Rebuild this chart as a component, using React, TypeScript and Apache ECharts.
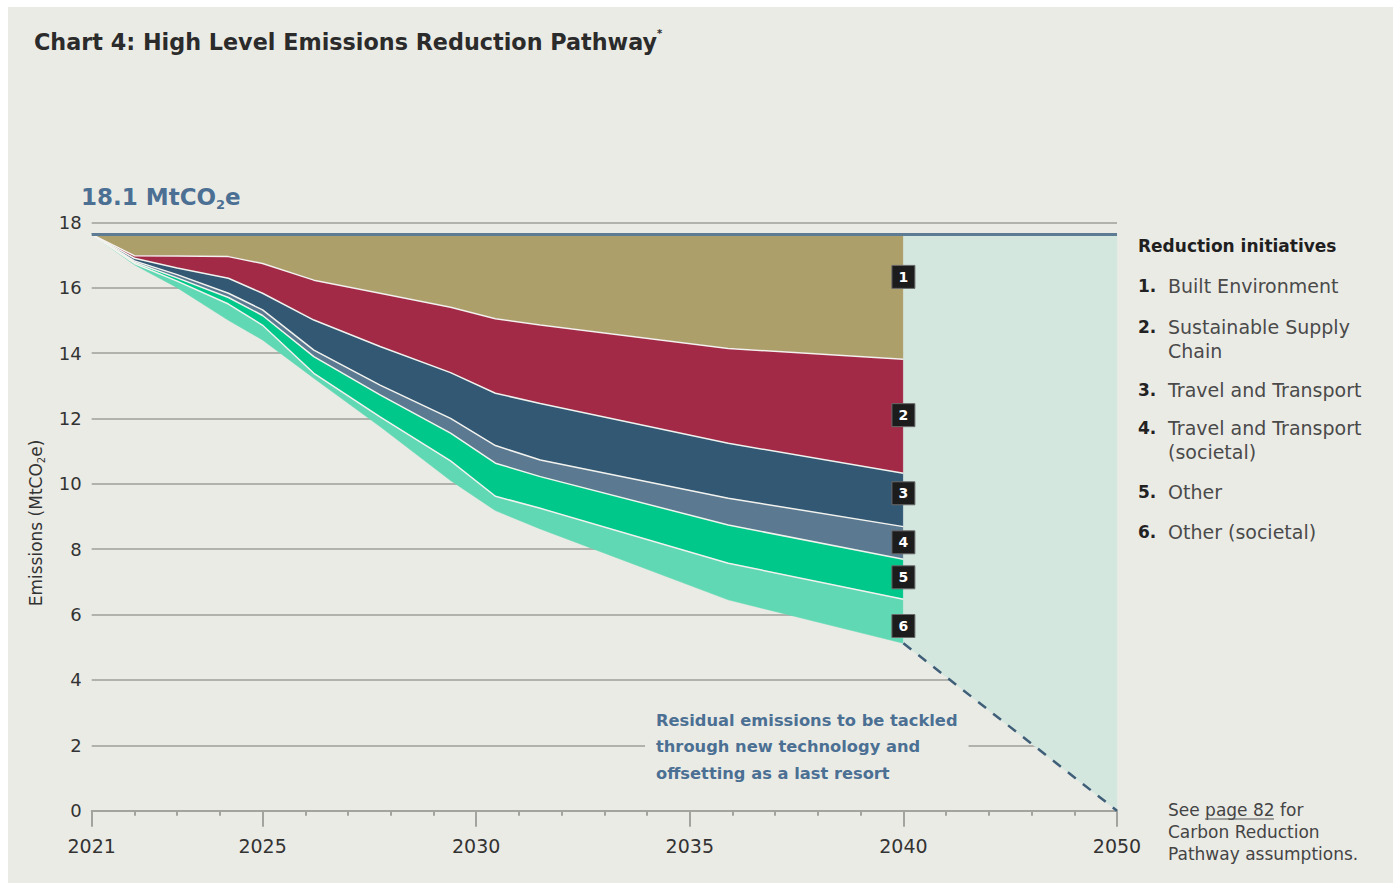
import { useEffect, useRef } from "react";
import * as echarts from "echarts";

// ---------- data ----------
const years = [2021, 2022, 2023, 2024.2, 2025, 2026.2, 2027.75, 2029.4, 2030.45, 2031.5, 2035.9, 2040];
const baselineLevel = 17.63;
const boundary12 = [17.63, 16.98, 16.97, 16.95, 16.74, 16.23, 15.83, 15.4, 15.05, 14.86, 14.14, 13.81];
const boundary23 = [17.63, 16.9, 16.6, 16.29, 15.83, 15.01, 14.2, 13.4, 12.77, 12.46, 11.24, 10.32];
const boundary34 = [17.63, 16.82, 16.4, 15.83, 15.32, 14.09, 13.02, 12.0, 11.17, 10.73, 9.56, 8.69];
const boundary45 = [17.63, 16.78, 16.3, 15.7, 15.15, 13.89, 12.72, 11.55, 10.63, 10.22, 8.74, 7.69];
const boundary56 = [17.63, 16.74, 16.2, 15.5, 14.85, 13.38, 12.05, 10.7, 9.62, 9.25, 7.57, 6.47];
const residual = [17.63, 16.7, 16.0, 15.0, 14.4, 13.23, 11.75, 10.1, 9.18, 8.62, 6.45, 5.12];
const residualPathYears = [2040, 2050];
const residualPathValues = [5.12, 0];
const axisLabelYears = [2021, 2025, 2030, 2035, 2040, 2050];
const initiativeNumbers = ["1.", "2.", "3.", "4.", "5.", "6."];
const initiativeNames = [
  "Built Environment",
  "Sustainable Supply\nChain",
  "Travel and Transport",
  "Travel and Transport\n(societal)",
  "Other",
  "Other (societal)",
];
const badgeLabels = ["1", "2", "3", "4", "5", "6"];
const badgeValues = [16.33, 12.1, 9.71, 8.21, 7.14, 5.65];

// ---------- style ----------
const BG = "#ebebe6";
const FONT = "'DejaVu Sans', sans-serif";
const layerColors = ["#ad9f69", "#a32a46", "#325874", "#5b7a91", "#00c88b", "#5fd8b3"]; // 1..6
const WEDGE = "#d3e7df";
const STEEL = "#5d7b92";
const BLUE_TEXT = "#4b7093";

// axis is compressed after 2040 (10 years drawn over 5 units)
const pos = (y: number) => (y <= 2040 ? y : 2040 + (y - 2040) / 2);

const GRID_L = 91.7;
const GRID_T = 222.3;
const GRID_W = 1117 - 91.7;
const GRID_H = 810.7 - 222.3;

export default function App() {
  const ref = useRef<HTMLDivElement>(null);
  useEffect(() => {
    if (!ref.current) return;
    const chart = echarts.init(ref.current, null, { renderer: "svg" });

    const topLine = years.map(() => baselineLevel);
    // bands, layer 1..6 then the 2040-2050 wedge : [xs, upper, lower, color]
    const bands: any[] = [
      [years, topLine, boundary12, layerColors[0]],
      [years, boundary12, boundary23, layerColors[1]],
      [years, boundary23, boundary34, layerColors[2]],
      [years, boundary34, boundary45, layerColors[3]],
      [years, boundary45, boundary56, layerColors[4]],
      [years, boundary56, residual, layerColors[5]],
      [residualPathYears.map(pos), residualPathYears.map(() => baselineLevel), residualPathValues, WEDGE],
    ];

    const series: any[] = [];
    series.push({
      type: "custom",
      silent: true,
      clip: true,
      z: 2,
      data: bands.map((_, k) => [2030, 10, k]),
      renderItem: (params: any, api: any) => {
        const k = api.value(2);
        const [xs, up, low, color] = bands[k];
        const pts: number[][] = [];
        for (let i = 0; i < xs.length; i++) pts.push(api.coord([xs[i], up[i]]));
        for (let i = xs.length - 1; i >= 0; i--) pts.push(api.coord([xs[i], low[i]]));
        return {
          type: "polygon",
          shape: { points: pts },
          style: { fill: color, stroke: color, lineWidth: 0.5 },
        };
      },
    });
    // white separators
    [boundary56, boundary45, boundary34, boundary23, boundary12].forEach((b) => {
      series.push({
        type: "line",
        symbol: "none",
        silent: true,
        lineStyle: { width: 1.5, color: "#f2f2ee" },
        data: years.map((y, i) => [y, b[i]]),
        z: 3,
      });
    });
    // baseline
    series.push({
      type: "line",
      symbol: "none",
      silent: true,
      lineStyle: { width: 3, color: STEEL },
      data: [
        [years[0], baselineLevel],
        [pos(2050), baselineLevel],
      ],
      z: 4,
    });
    // residual dashed path
    series.push({
      type: "line",
      symbol: "none",
      silent: true,
      lineStyle: { width: 2.5, color: "#3f5e78", type: [10, 9] },
      data: residualPathYears.map((y, i) => [pos(y), residualPathValues[i]]),
      z: 4,
    });
    // badges
    series.push({
      type: "scatter",
      symbol: "rect",
      symbolSize: 23,
      silent: true,
      itemStyle: { color: "#1c1c1c", borderColor: "#6a6a6a", borderWidth: 1, opacity: 1 },
      label: {
        show: true,
        position: "inside",
        formatter: (p: any) => p.value[2],
        color: "#ffffff",
        fontFamily: FONT,
        fontWeight: "bold",
        fontSize: 14,
      },
      data: badgeLabels.map((l, i) => [2040, badgeValues[i], l]),
      z: 6,
    });

    const tickPositions = axisLabelYears.map(pos);
    const labelFor: Record<string, string> = {};
    axisLabelYears.forEach((y) => (labelFor[String(pos(y))] = String(y)));

    const graphics: any[] = [
      { type: "rect", z: -100, silent: true, shape: { x: 8, y: 7, width: 1385, height: 876 }, style: { fill: BG } },
      {
        type: "text",
        z: 50,
        x: 34,
        y: 42,
        style: {
          text: "{t|Chart 4: High Level Emissions Reduction Pathway}{s|*}",
          verticalAlign: "middle",
          rich: {
            t: { fontFamily: FONT, fontSize: 22.3, fontWeight: 700, fill: "#2b2b2b", lineHeight: 28 },
            s: { fontFamily: FONT, fontSize: 10, fontWeight: 600, fill: "#2b2b2b", verticalAlign: "top", lineHeight: 28 },
          },
        },
      },
      {
        type: "text",
        z: 50,
        x: 81,
        y: 197,
        style: {
          text: "{a|18.1 MtCO}{b|2}{a|e}",
          verticalAlign: "middle",
          rich: {
            a: { fontFamily: FONT, fontSize: 23, fontWeight: 700, fill: BLUE_TEXT, lineHeight: 28 },
            b: { fontFamily: FONT, fontSize: 13, fontWeight: 700, fill: BLUE_TEXT, verticalAlign: "bottom", lineHeight: 22 },
          },
        },
      },
      {
        type: "text",
        z: 50,
        x: 36,
        y: 523,
        rotation: Math.PI / 2,
        style: {
          text: "{a|Emissions (MtCO}{b|2}{a|e)}",
          align: "center",
          verticalAlign: "middle",
          rich: {
            a: { fontFamily: FONT, fontSize: 17, fill: "#333333", lineHeight: 20 },
            b: { fontFamily: FONT, fontSize: 10, fill: "#333333", verticalAlign: "bottom", lineHeight: 16 },
          },
        },
      },
      {
        type: "text",
        z: 50,
        x: 1138,
        y: 246,
        style: {
          text: "Reduction initiatives",
          fontFamily: FONT,
          fontSize: 17,
          fontWeight: 700,
          fill: "#1f1f1f",
          verticalAlign: "middle",
        },
      },
      {
        type: "text",
        z: 50,
        x: 645,
        y: 707,
        style: {
          text: "Residual emissions to be tackled\nthrough new technology and\noffsetting as a last resort",
          fontFamily: FONT,
          fontSize: 16.3,
          fontWeight: 700,
          fill: BLUE_TEXT,
          lineHeight: 26.5,
          backgroundColor: BG,
          padding: [0, 11, 0, 11],
        },
      },
      {
        type: "text",
        z: 50,
        x: 1168,
        y: 799,
        style: {
          text: "See page 82 for\nCarbon Reduction\nPathway assumptions.",
          fontFamily: FONT,
          fontSize: 17,
          fill: "#444444",
          lineHeight: 22,
        },
      },
      {
        type: "line",
        z: 50,
        shape: { x1: 1205, y1: 819, x2: 1274, y2: 819 },
        style: { stroke: "#555555", lineWidth: 1.2 },
      },
    ];
    const itemCenters = [286, 327, 390, 428, 492, 532];
    initiativeNames.forEach((name, i) => {
      graphics.push({
        type: "text",
        z: 50,
        x: 1138,
        y: itemCenters[i] - 11.5,
        style: { text: initiativeNumbers[i], fontFamily: FONT, fontSize: 17, fontWeight: 700, fill: "#222222", lineHeight: 23 },
      });
      graphics.push({
        type: "text",
        z: 50,
        x: 1168,
        y: itemCenters[i] - 11.75,
        style: { text: name, fontFamily: FONT, fontSize: 19, fill: "#4a4a4a", lineHeight: 23.5 },
      });
    });

    chart.setOption({
      animation: false,
      backgroundColor: "#ffffff",
      grid: { left: GRID_L, top: GRID_T, width: GRID_W, height: GRID_H, containLabel: false, outerBoundsMode: "none" },
      xAxis: [
        {
          type: "value",
          min: 2021,
          max: 2045,
          interval: 1,
          axisLine: { show: true, lineStyle: { color: "#a3a39f", width: 2 } },
          axisTick: { show: true, length: 5, lineStyle: { color: "#a3a39f", width: 2 } },
          axisLabel: { show: false },
          splitLine: { show: false },
        },
        {
          type: "value",
          min: 2021,
          max: 2045,
          position: "bottom",
          axisLine: { show: false },
          axisTick: { show: true, length: 16, customValues: tickPositions, lineStyle: { color: "#a3a39f", width: 2 } },
          axisLabel: {
            show: true,
            customValues: tickPositions,
            formatter: (v: number) => labelFor[String(v)] ?? "",
            margin: 26,
            fontFamily: FONT,
            fontSize: 19,
            color: "#333333",
          },
          splitLine: { show: false },
        },
      ],
      yAxis: {
        type: "value",
        min: 0,
        max: 18,
        interval: 2,
        axisLine: { show: false },
        axisTick: { show: false },
        axisLabel: { fontFamily: FONT, fontSize: 18, color: "#333333", margin: 10 },
        splitLine: { lineStyle: { color: "#b2b2ad", width: 2 } },
      },
      series,
      graphic: { elements: graphics },
    });
    return () => chart.dispose();
  }, []);
  return (
    <div style={{ position: "fixed", left: 0, top: 0, width: 1393, height: 883, background: "#fff" }}>
      <div ref={ref} style={{ width: 1393, height: 883 }} />
    </div>
  );
}
